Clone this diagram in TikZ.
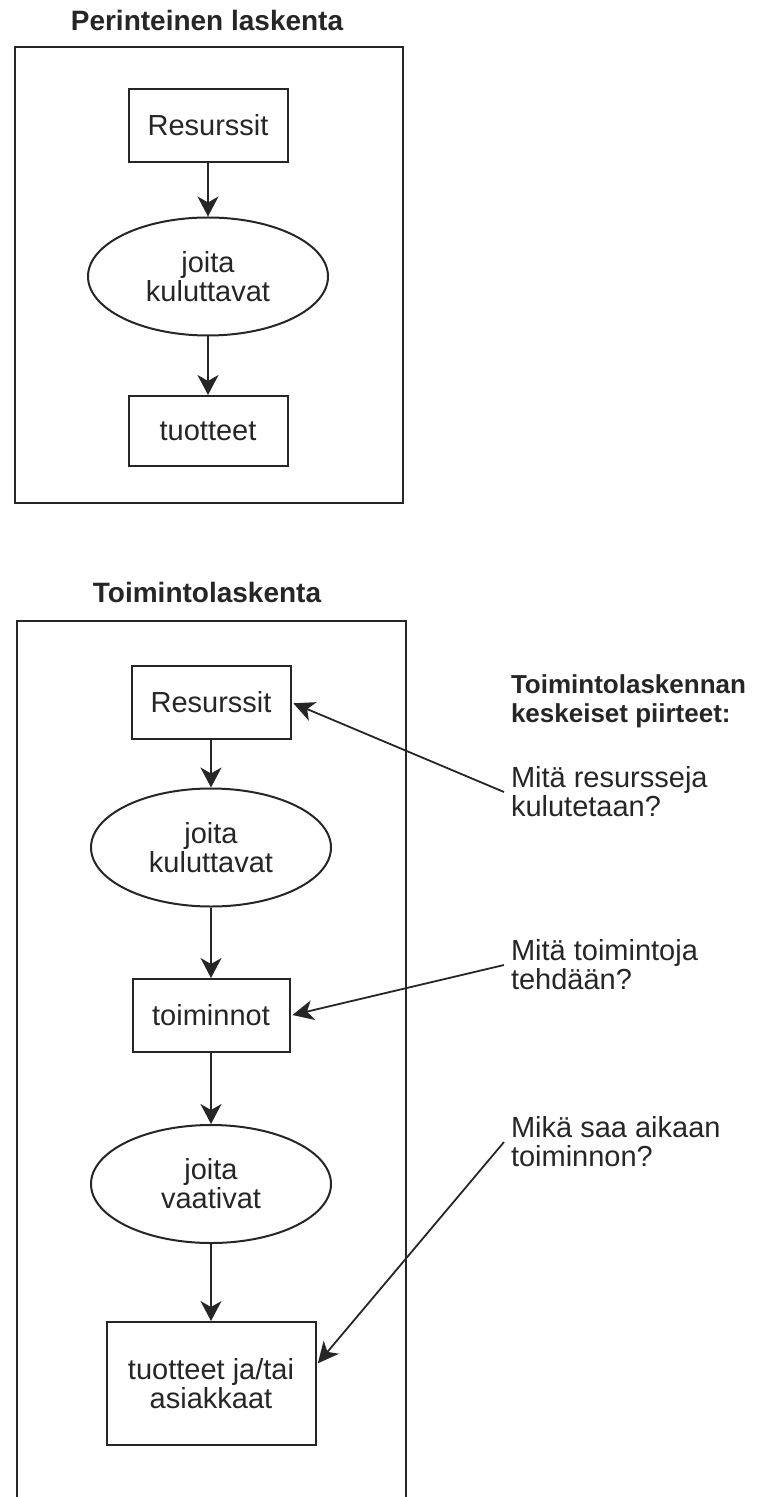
\documentclass[tikz,border=0pt]{standalone}
\usepackage{fontspec}
\setmainfont{Liberation Sans}
\usepackage{tikz}
\usetikzlibrary{arrows.meta,shapes.geometric}

\begin{document}
\begin{tikzpicture}[x=0.5pt,y=-0.5pt, line width=1pt, color=black!85,
	every node/.style={font=\fontsize{14.5pt}{14.5pt}\selectfont, align=center},
	heading/.style={font=\fontsize{14pt}{14.5pt}\selectfont\bfseries},
	box/.style={draw, rectangle, inner sep=0pt},
	oval/.style={draw, ellipse, inner sep=0pt, minimum width=120pt, minimum height=59pt},
	flow/.style={-{Stealth[length=10pt,width=10.5pt,inset=3pt]}, line width=0.9pt},
	pointer/.style={-{Stealth[length=10.5pt,width=10pt,inset=3pt]}, line width=0.9pt, shorten >=1pt},
	question/.style={anchor=west, align=left, inner xsep=3pt, inner ysep=0pt}]
	\useasboundingbox (0,0) rectangle (761,1497);

	% Perinteinen laskenta
	\node[heading] (title1) at (207,21) {Perinteinen laskenta};
	\draw (15,47) rectangle (403,503);
	\node[box, minimum width=79.5pt, minimum height=36.5pt] (res1) at (208,125.5) {Resurssit};
	\node[oval] (cons1) at (208,276.5) {joita\\kuluttavat};
	\node[box, minimum width=79.5pt, minimum height=35pt] (prod1) at (208,431) {tuotteet};
	\draw[flow] (res1) -- (cons1);
	\draw[flow] (cons1) -- (prod1);

	% Toimintolaskenta
	\node[heading] (title2) at (207,592) {Toimintolaskenta};
	\draw (17,1497) -- (17,621) -- (406,621) -- (406,1497);
	\node[box, minimum width=79.5pt, minimum height=36.5pt] (res2) at (211,702.5) {Resurssit};
	\node[oval] (cons2) at (211,847.5) {joita\\kuluttavat};
	\node[box, minimum width=78.5pt, minimum height=36.5pt] (act) at (211,1015.5) {toiminnot};
	\node[oval] (req) at (211,1184) {joita\\vaativat};
	\node[box, minimum width=104.5pt, minimum height=61.5pt] (out) at (211,1383.5) {tuotteet ja/tai\\asiakkaat};
	\draw[flow] (res2) -- (cons2);
	\draw[flow] (cons2) -- (act);
	\draw[flow] (act) -- (req);
	\draw[flow] (req) -- (out);

	% keskeiset piirteet
	\node[heading, font=\fontsize{13pt}{14.5pt}\selectfont\bfseries, anchor=west, align=left, inner sep=0pt] (feat) at (510,701) {Toimintolaskennan\\keskeiset piirteet:};
	\node[question] (q1) at (504,792) {Mitä resursseja\\kulutetaan?};
	\node[question] (q2) at (504,965) {Mitä toimintoja\\tehdään?};
	\node[question] (q3) at (504,1142) {Mikä saa aikaan\\toiminnon?};
	\draw[pointer] (q1.west) -- (res2.east);
	\draw[pointer] (q2.west) -- (act.east);
	\draw[pointer] (q3.west) -- (out.10);

\end{tikzpicture}
\end{document}
